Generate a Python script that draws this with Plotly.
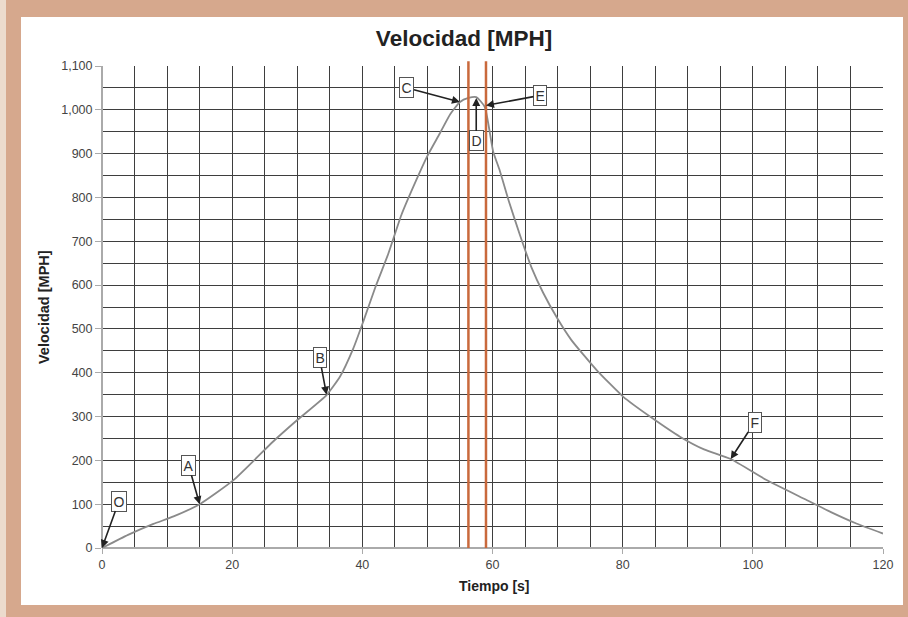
import plotly.graph_objects as go

# ---- data ----
time_s = [0, 4, 7.9, 11, 15, 20.2, 26.3, 30, 34.5, 36.6, 38.6, 40.1, 42, 44.0, 46, 48.3,
          50, 51.9, 53.5, 55.0, 56.3, 57.5, 58.8, 60.1, 61.1, 62.5, 64.2, 66, 67.8, 70,
          72.1, 76.0, 80.1, 84.2, 88.8, 92.5, 96.6, 102.1, 108.2, 112, 115.9, 120]
speed_mph = [0, 30, 55, 72, 100, 155, 243, 292, 349, 392, 455, 515, 595, 672, 760, 840,
             895, 946, 990, 1018, 1027, 1029, 1007, 905, 862, 792, 715, 640, 582, 523,
             475, 406, 345, 300, 254, 225, 203, 155, 110, 82, 56, 33]

vlines_x = [56.3, 59.0]

ann_labels = ["O", "A", "B", "C", "D", "E", "F"]
ann_x = [0, 15.0, 34.5, 55.0, 57.5, 59.0, 96.6]
ann_y = [0, 100, 350, 1018, 1027, 1010, 203]
ann_ax = [17, -11, -7, -53, 0, 54, 24]
ann_ay = [-47, -39, -37, -14, 43, -10, -37]

x_ticks = [0, 20, 40, 60, 80, 100, 120]
y_ticks = list(range(0, 1101, 100))

title_text = "Velocidad [MPH]"
x_title = "Tiempo [s]"
y_title = "Velocidad [MPH]"

FONT = "Liberation Sans"
GRID = "#3e3e3e"
GW = 1.1

fig = go.Figure()
fig.add_trace(go.Scatter(x=time_s, y=speed_mph, mode="lines",
                         line=dict(color="#8a8a8a", width=1.8, shape="spline", smoothing=0.5),
                         hoverinfo="skip", showlegend=False))

# layout geometry (pixels)
W, H = 908, 617
L, R, T, B = 102, 25, 66, 69
pw, ph = W - L - R, H - T - B

def px(xp):
    return (xp - L) / pw

def py(yp):
    return (H - B - yp) / ph

shapes = [
    dict(type="rect", xref="paper", yref="paper", x0=px(-5), x1=px(6), y0=py(H + 5), y1=py(-5),
         fillcolor="#ecdbcd", line=dict(width=0), layer="below"),
    dict(type="rect", xref="paper", yref="paper", x0=px(21), x1=px(903), y0=py(605), y1=py(17),
         fillcolor="white", line=dict(width=0), layer="below"),
]
for vx in vlines_x:
    shapes.append(dict(type="line", xref="x", yref="paper", x0=vx, x1=vx, y0=0, y1=1.01,
                       line=dict(color="#c9693c", width=2.5)))

annotations = []
for lab, ax_, ay_, dx, dy in zip(ann_labels, ann_x, ann_y, ann_ax, ann_ay):
    annotations.append(dict(x=ax_, y=ay_, xref="x", yref="y", text=lab, showarrow=True,
                            ax=dx, ay=dy, arrowhead=2, arrowsize=1, arrowwidth=1.6,
                            arrowcolor="#222222", standoff=0,
                            font=dict(family=FONT, size=14, color="#333333"),
                            bgcolor="white", bordercolor="#555555", borderwidth=1, borderpad=1.5))
annotations.append(dict(x=px(44), y=0.5, xref="paper", yref="paper", text="<b>" + y_title + "</b>",
                        textangle=-90, showarrow=False, xanchor="center", yanchor="middle",
                        font=dict(family=FONT, size=14.5, color="#222222")))
annotations.append(dict(x=px(494), y=py(586), xref="paper", yref="paper", text="<b>" + x_title + "</b>",
                        showarrow=False, xanchor="center", yanchor="middle",
                        font=dict(family=FONT, size=14, color="#222222")))

fig.update_layout(
    width=W, height=H,
    margin=dict(l=L, r=R, t=T, b=B, autoexpand=False),
    paper_bgcolor="#d6a88d",
    plot_bgcolor="white",
    title=dict(text="<b>" + title_text + "</b>", x=464 / W, xref="container", xanchor="center",
               y=1 - 38 / H, yref="container", yanchor="middle",
               font=dict(family=FONT, size=22.5, color="#222222")),
    shapes=shapes,
    annotations=annotations,
    showlegend=False,
)
fig.update_xaxes(range=[0, 120], tickvals=x_ticks, ticktext=[str(v) for v in x_ticks],
                 showgrid=True, gridcolor=GRID, gridwidth=GW,
                 minor=dict(dtick=5, tick0=0, showgrid=True, gridcolor=GRID, gridwidth=GW),
                 zeroline=True, zerolinecolor="#aaaaaa", zerolinewidth=1.5,
                 ticks="outside", ticklen=5, tickcolor="#aaaaaa", tickwidth=1,
                 tickfont=dict(family=FONT, size=12.5, color="#444444"),
                 showline=False, fixedrange=True)
fig.update_yaxes(range=[0, 1100], tickvals=y_ticks, ticktext=[f"{v:,}" for v in y_ticks],
                 showgrid=True, gridcolor=GRID, gridwidth=GW,
                 minor=dict(dtick=50, tick0=0, showgrid=True, gridcolor=GRID, gridwidth=GW),
                 zeroline=True, zerolinecolor="#aaaaaa", zerolinewidth=1.5,
                 ticks="outside", ticklen=6, tickcolor="#aaaaaa", tickwidth=1,
                 tickfont=dict(family=FONT, size=12.5, color="#444444"),
                 showline=False, fixedrange=True)

fig.write_html("out.html")
